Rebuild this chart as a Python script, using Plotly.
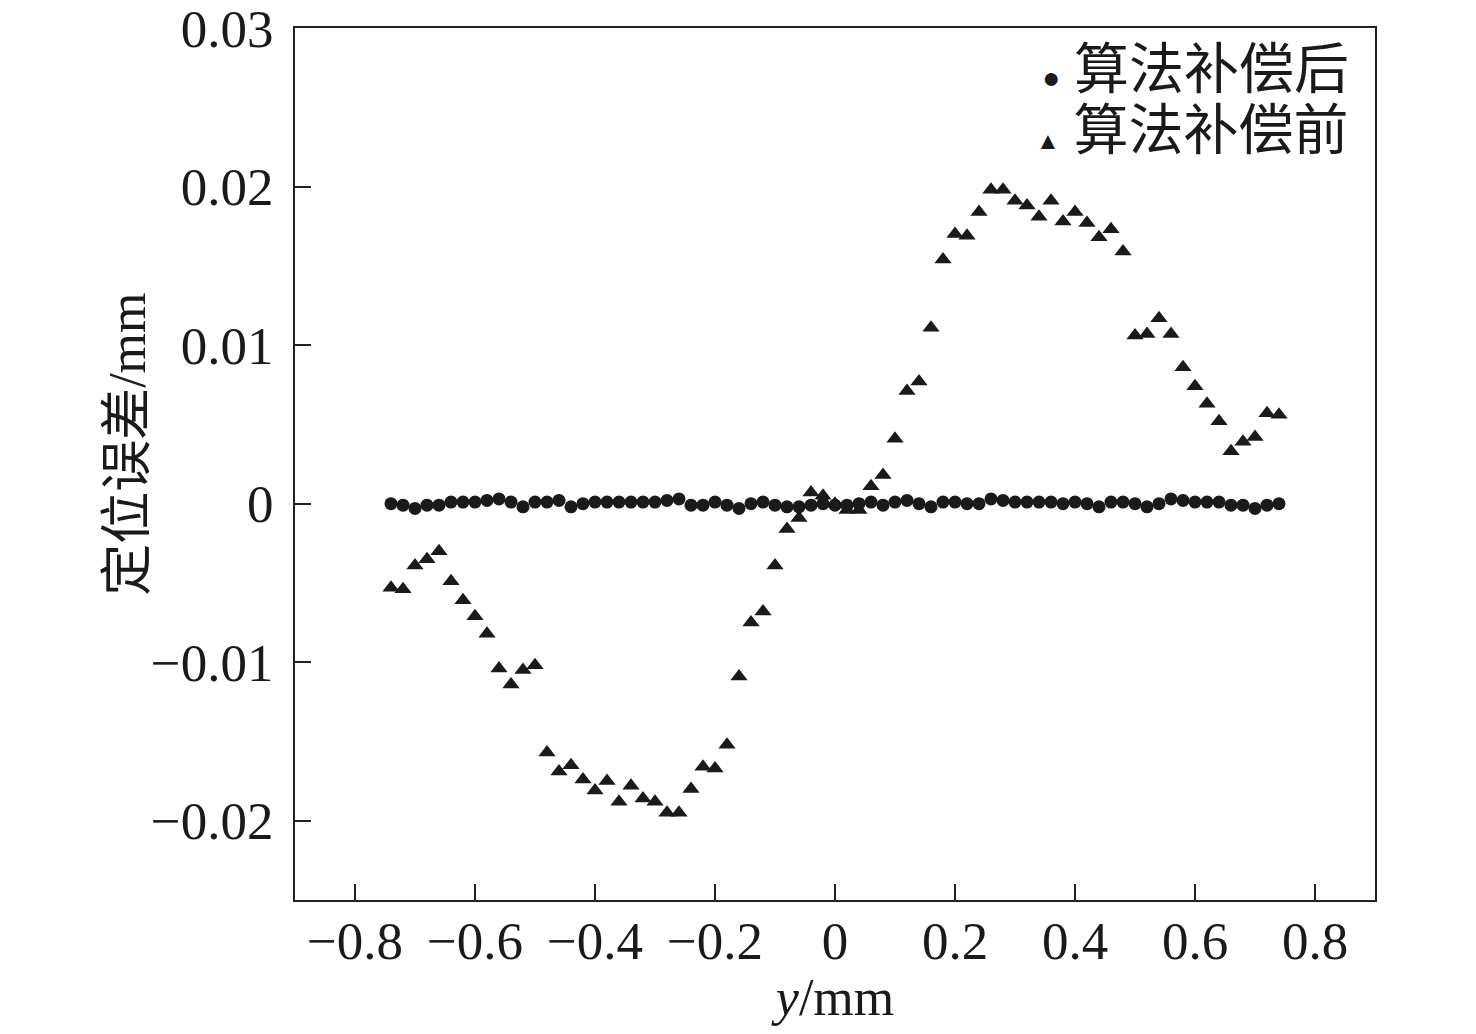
import plotly.graph_objects as go

# Data
x_pos = [round(-0.74 + 0.02 * i, 2) for i in range(75)]

err_before = [
    -0.0053, -0.0054, -0.0039, -0.0035, -0.0030, -0.0049, -0.0061, -0.0071, -0.0082, -0.0104,
    -0.0114, -0.0105, -0.0102, -0.0157, -0.0169, -0.0165, -0.0174, -0.0181, -0.0175, -0.0188,
    -0.0178, -0.0186, -0.0188, -0.0195, -0.0195, -0.0180, -0.0166, -0.0167, -0.0152, -0.0109,
    -0.0075, -0.0068, -0.0039, -0.0016, -0.0009, 0.0007, 0.0005, 0.0000, -0.0004, -0.0004,
    0.0011, 0.0018, 0.0041, 0.0071, 0.0077, 0.0111, 0.0154, 0.0170, 0.0169, 0.0184,
    0.0198, 0.0198, 0.0191, 0.0188, 0.0181, 0.0191, 0.0178, 0.0184, 0.0177, 0.0168,
    0.0173, 0.0159, 0.0106, 0.0107, 0.0117, 0.0107, 0.0086, 0.0074, 0.0063, 0.0052,
    0.0033, 0.0039, 0.0042, 0.0057, 0.0056,
]

err_after = [
    0.0000, -0.0001, -0.0003, -0.0001, -0.0001, 0.0001, 0.0001, 0.0001, 0.0002, 0.0003,
    0.0001, -0.0002, 0.0001, 0.0001, 0.0002, -0.0002, 0.0000, 0.0001, 0.0001, 0.0001,
    0.0001, 0.0001, 0.0001, 0.0002, 0.0003, -0.0001, -0.0001, 0.0001, -0.0001, -0.0003,
    0.0000, 0.0001, -0.0001, -0.0002, -0.0002, -0.0001, 0.0000, -0.0001, -0.0001, 0.0000,
    0.0001, -0.0001, 0.0001, 0.0002, 0.0000, -0.0002, 0.0001, 0.0001, 0.0000, 0.0000,
    0.0003, 0.0002, 0.0001, 0.0001, 0.0001, 0.0001, 0.0000, 0.0001, 0.0000, -0.0002,
    0.0001, 0.0001, 0.0000, -0.0002, 0.0000, 0.0003, 0.0002, 0.0001, 0.0001, 0.0001,
    -0.0001, -0.0001, -0.0003, -0.0001, 0.0000,
]

x_ticks = [-0.8, -0.6, -0.4, -0.2, 0, 0.2, 0.4, 0.6, 0.8]
x_ticktext = ["−0.8", "−0.6", "−0.4", "−0.2", "0", "0.2", "0.4", "0.6", "0.8"]
y_ticks = [-0.02, -0.01, 0, 0.01, 0.02, 0.03]
y_ticktext = ["−0.02", "−0.01", "0", "0.01", "0.02", "0.03"]
series_names = ["算法补偿后", "算法补偿前"]

FONT = "Liberation Serif, Times New Roman, Noto Sans CJK SC, serif"
INK = "#1a1a1a"

fig = go.Figure()
fig.add_trace(go.Scatter(
    x=x_pos, y=err_after, mode="markers", name=series_names[0],
    marker=dict(symbol="circle", size=13, color=INK),
))
fig.add_trace(go.Scatter(
    x=x_pos, y=err_before, mode="markers", name=series_names[1],
    marker=dict(symbol="triangle-up", size=15, color=INK),
))

axis_common = dict(
    showline=True, linecolor="#222", linewidth=2, mirror=True,
    ticks="inside", ticklen=16, tickwidth=2, tickcolor="#222",
    showgrid=False, zeroline=False, automargin=False,
    ticklabeloverflow="allow",
    tickfont=dict(family=FONT, size=53, color=INK),
)
fig.update_xaxes(
    range=[-0.9, 0.9], tickvals=x_ticks, ticktext=x_ticktext,
    ticklabelstandoff=-7,
    title=dict(text="<i>y</i>/mm", standoff=22, font=dict(family=FONT, size=52, color=INK)),
    **axis_common,
)
fig.update_yaxes(
    range=[-0.025, 0.03], tickvals=y_ticks, ticktext=y_ticktext,
    ticklabelstandoff=9,
    **axis_common,
)

# y-axis title placed as an annotation for exact positioning
fig.add_annotation(
    text="定位误差/mm", textangle=-90, xref="paper", yref="paper",
    x=-0.1546, y=0.522, xanchor="center", yanchor="middle", showarrow=False,
    font=dict(family=FONT, size=52, color=INK),
)

# legend drawn as text rows (top right, inside the frame)
legend_rows = [
    ('<span style="font-size:30px">●</span> ', series_names[0], 0.952),
    ('<span style="font-size:24px">▲</span> ', series_names[1], 0.883),
]
for sym, label, ypos in legend_rows:
    fig.add_annotation(
        text=sym + label, xref="paper", yref="paper", x=0.978, y=ypos,
        xanchor="right", yanchor="middle", showarrow=False,
        font=dict(family=FONT, size=55, color=INK),
    )

fig.update_layout(
    width=1460, height=1018,
    margin=dict(l=287, r=93, t=20, b=126),
    plot_bgcolor="white", paper_bgcolor="white",
    font=dict(family=FONT, size=50, color=INK),
    showlegend=False,
)

fig.write_html("out.html")
